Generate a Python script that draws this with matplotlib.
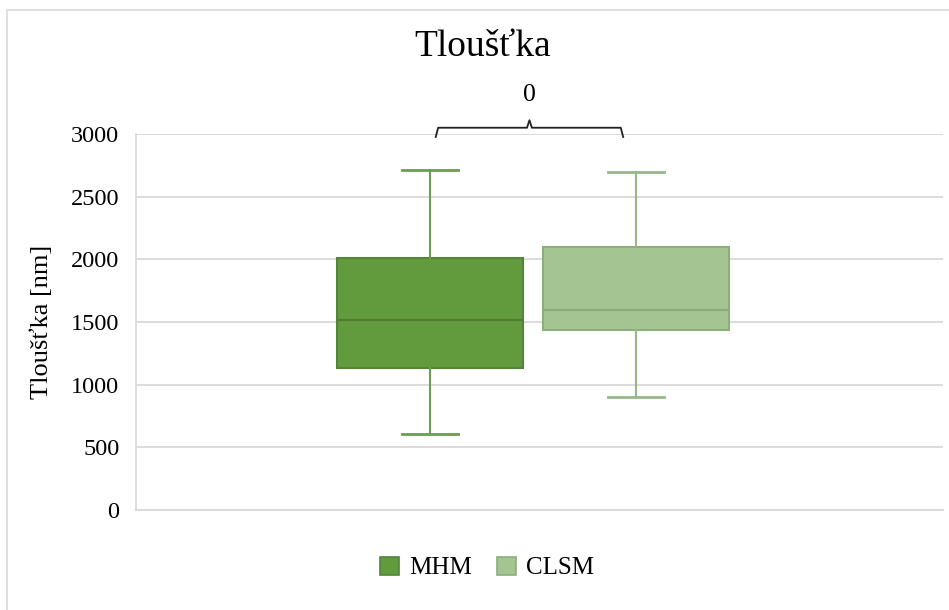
import matplotlib
matplotlib.use("Agg")
import matplotlib.pyplot as plt
from matplotlib.patches import Rectangle, Patch

plt.rcParams['font.family'] = ['Liberation Serif', 'DejaVu Serif']

# ---- data ----
series = ["MHM", "CLSM"]
whislo = [606, 902]
q1 = [1133, 1436]
med = [1516, 1596]
q3 = [2011, 2099]
whishi = [2713, 2697]
yticks = [0, 500, 1000, 1500, 2000, 2500, 3000]
title = "Tloušťka"
ylabel = "Tloušťka [nm]"
bracket_label = "0"

# ---- style / layout ----
fills = ["#629A3E", "#A4C592"]
edges = ["#54843A", "#8DAE7C"]
whisk = ["#6B9C51", "#95B888"]
medc = ["#4F7C33", "#8AAA79"]
positions = [0.3644, 0.6197]
box_w = 0.2305
cap_w = 0.069

fig = plt.figure(figsize=(9.49, 6.10), dpi=100)
# outer chart border (only left and top visible)
fig.patches.append(Rectangle((7/949, -0.1), 1.2, 1.1 - 10/610, transform=fig.transFigure,
                             fill=False, edgecolor="#D9D9D9", lw=1.2))
ax = fig.add_axes([136/949, 1 - 510/610, 807/949, 376/610])

stats = []
for i, s in enumerate(series):
    stats.append(dict(label=s, whislo=whislo[i], q1=q1[i], med=med[i],
                      q3=q3[i], whishi=whishi[i], fliers=[]))

for i in range(len(series)):
    ax.bxp([stats[i]], positions=[positions[i]], widths=box_w, patch_artist=True,
           showfliers=False, capwidths=cap_w,
           boxprops=dict(facecolor=fills[i], edgecolor=edges[i], lw=1.5),
           medianprops=dict(color=medc[i], lw=1.5),
           whiskerprops=dict(color=whisk[i], lw=1.5),
           capprops=dict(color=whisk[i], lw=2.0), zorder=3)

ax.set_xlim(0, 1)
ax.set_ylim(0, 3000)
ax.set_yticks(yticks)
ax.set_yticklabels([str(t) for t in yticks], fontsize=17.5)
ax.set_xticks([])
ax.yaxis.grid(True, color="#D9D9D9", lw=1.3)
ax.set_axisbelow(True)
for sp in ["top", "right"]:
    ax.spines[sp].set_visible(False)
ax.spines["left"].set_color("#D9D9D9")
ax.spines["bottom"].set_color("#D9D9D9")
ax.spines["left"].set_linewidth(1.3)
ax.spines["bottom"].set_linewidth(1.3)
ax.tick_params(axis="y", length=0, pad=12, colors="black")
ax.tick_params(axis="x", length=0)

ax.set_ylabel(ylabel, fontsize=19, labelpad=13)

# curly bracket between the two boxes
xl = positions[0] + 0.007
xr = positions[1] - 0.016
xm = (xl + xr) / 2
yb = 3050
ax.plot([xl, xl + 0.003, xm - 0.003, xm, xm + 0.003, xr - 0.003, xr],
        [2976, yb, yb, 3110, yb, yb, 2976], color="#222222", lw=1.3,
        clip_on=False, solid_joinstyle="round")
ax.text(xm, 3310, bracket_label, ha="center", va="center", fontsize=18.5)

fig.text(483/949, 1 - 47/610, title, ha="center", va="center", fontsize=27)

handles = [Patch(facecolor=fills[i], edgecolor=edges[i], lw=1.2, label=series[i])
           for i in range(len(series))]
fig.legend(handles=handles, loc="center", bbox_to_anchor=(487/949, 1 - 568/610),
           ncol=2, frameon=False, fontsize=18, handlelength=0.75, handleheight=0.75,
           handletextpad=0.4, columnspacing=1.0)

fig.savefig("out.png", dpi=100)
